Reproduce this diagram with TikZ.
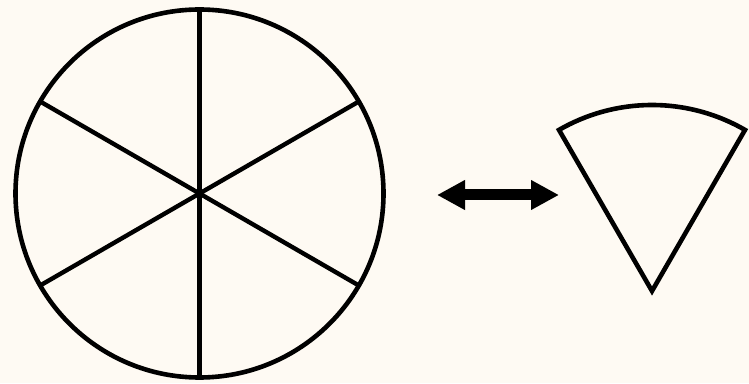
\documentclass[tikz,border=0pt]{standalone}
\usetikzlibrary{arrows.meta}
\definecolor{bg}{RGB}{254,250,243}
\begin{document}
\begin{tikzpicture}[x=1pt,y=1pt,
  outline/.style={draw=black,line width=4.6pt},
  spoke/.style={draw=black,line width=4.4pt},
  dblarrow/.style={line width=11pt,{Triangle[length=28pt,width=28pt]}-{Triangle[length=28pt,width=28pt]}}]
\fill[bg] (0,0) rectangle (749,383);
\useasboundingbox (0,0) rectangle (749,383);
\coordinate (c) at (199.5,189.5);
\foreach \a in {30,90,150,210,270,330}
  \draw[spoke] (c) -- ++(\a:184);
\draw[outline] (c) circle (184);
\coordinate (l) at (437,188);
\coordinate (r) at (559,188);
\draw[dblarrow] (l) -- (r);
\coordinate (apex) at (652,92);
\draw[outline] (apex) -- ++(60:186) arc (60:120:186) -- cycle;
\end{tikzpicture}
\end{document}
